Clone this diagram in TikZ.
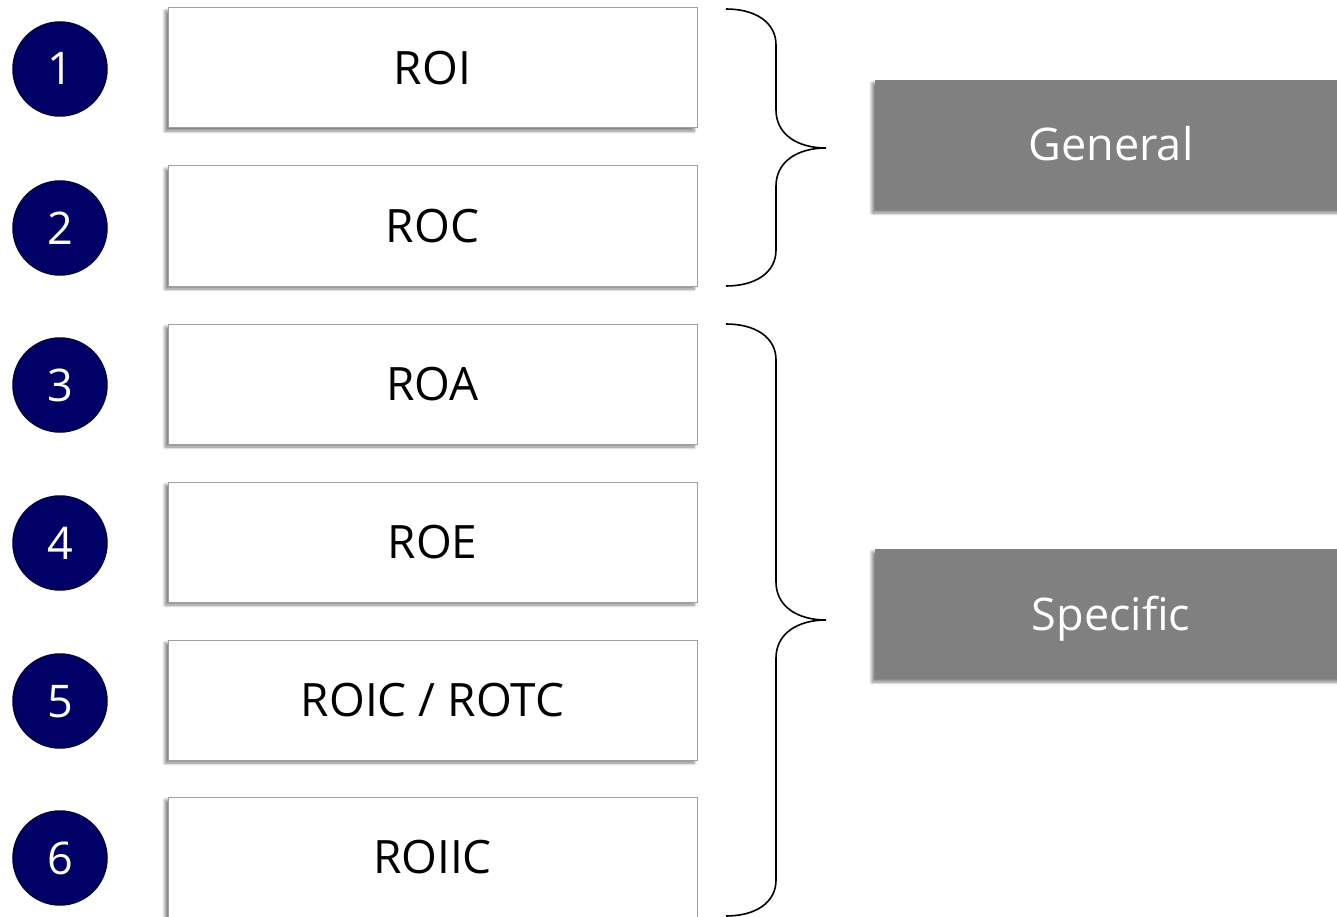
\documentclass[tikz,border=0pt]{standalone}
\usepackage{fontspec}
\setmainfont{Open Sans}
\usetikzlibrary{shadows.blur}
\definecolor{navy}{RGB}{0,0,102}
\definecolor{navyedge}{RGB}{0,0,64}
\definecolor{boxedge}{RGB}{160,160,160}
\definecolor{tagfill}{RGB}{128,128,128}
\tikzset{
  numcirc/.style={circle, fill=navy, draw=navyedge, line width=1.5pt, minimum size=94pt, inner sep=0pt, text=white, font=\fontsize{45}{50}\selectfont, text height=32pt, text depth=0pt},
  itembox/.style={rectangle, fill=white, draw=boxedge, line width=1pt, minimum width=529pt, minimum height=120pt, inner sep=0pt, font=\fontsize{46}{50}\selectfont, text height=33pt, text depth=0pt,
    blur shadow={shadow xshift=-3pt, shadow yshift=-3pt, shadow blur steps=6, shadow blur radius=3pt, shadow opacity=50}},
  tagbox/.style={rectangle, fill=tagfill, minimum width=472pt, minimum height=130pt, inner sep=0pt, text=white, font=\fontsize{45}{50}\selectfont, text height=32pt, text depth=0pt,
    blur shadow={shadow xshift=-3pt, shadow yshift=-3pt, shadow blur steps=6, shadow blur radius=3pt, shadow opacity=50}},
  bracepath/.style={draw=black, line width=1.6pt}
}
\begin{document}
\begin{tikzpicture}[x=1pt,y=-1pt]
\useasboundingbox (0,0) rectangle (1337,917);
\clip (0,0) rectangle (1337,917);
% item boxes
\node[itembox] (b1) at (432.5,68) {ROI};
\node[itembox] (b2) at (432.5,226) {ROC};
\node[itembox] (b3) at (432.5,384) {ROA};
\node[itembox] (b4) at (432.5,542) {ROE};
\node[itembox] (b5) at (432.5,700) {ROIC / ROTC};
\node[itembox] (b6) at (432.5,857) {ROIIC};
% number circles
\node[numcirc] (c1) at (60,69) {1};
\node[numcirc] (c2) at (60,228) {2};
\node[numcirc] (c3) at (60,385) {3};
\node[numcirc] (c4) at (60,543) {4};
\node[numcirc] (c5) at (60,701) {5};
\node[numcirc] (c6) at (60,858) {6};
% tags
\node[tagbox] (g) at (1111,145) {General};
\node[tagbox] (s) at (1111,614) {Specific};
% braces
\coordinate (t1a) at (726,9);
\coordinate (t1tip) at (826,148);
\coordinate (t1b) at (726,286);
\draw[bracepath] (t1a) .. controls (755,9) and (776,22) .. (776,45) -- (776,110)
  .. controls (776,134) and (797,148) .. (t1tip)
  .. controls (797,148) and (776,162) .. (776,186) -- (776,250)
  .. controls (776,273) and (755,286) .. (t1b);
\coordinate (t2a) at (726,324);
\coordinate (t2tip) at (826,620);
\coordinate (t2b) at (726,916);
\draw[bracepath] (t2a) .. controls (755,324) and (776,337) .. (776,360) -- (776,582)
  .. controls (776,606) and (797,620) .. (t2tip)
  .. controls (797,620) and (776,634) .. (776,658) -- (776,880)
  .. controls (776,903) and (755,916) .. (t2b);
\end{tikzpicture}
\end{document}
